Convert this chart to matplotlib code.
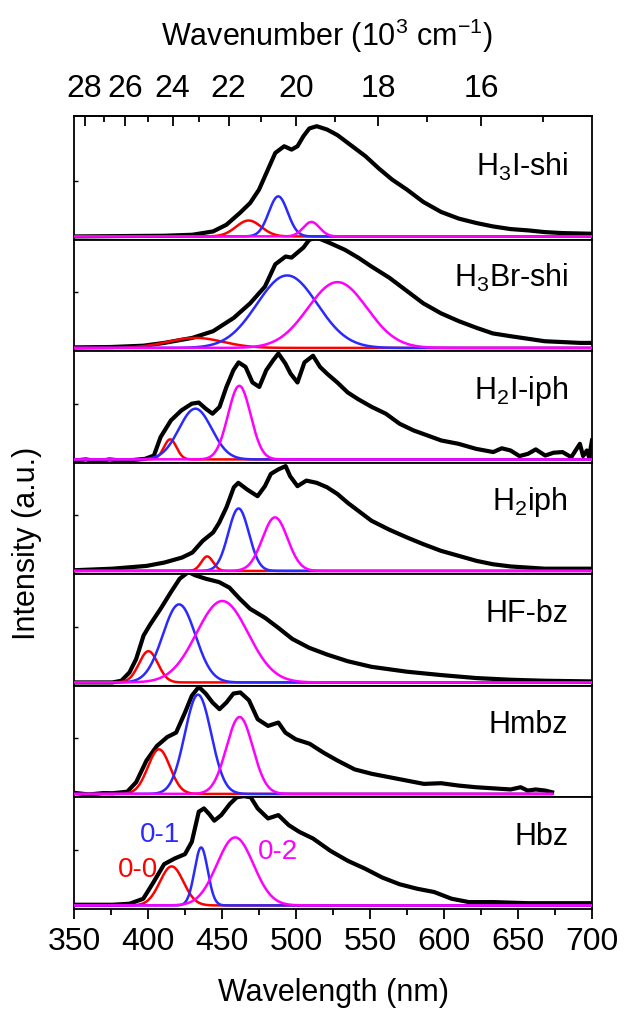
import numpy as np
import matplotlib
matplotlib.use("Agg")
import matplotlib.pyplot as plt
from matplotlib.ticker import FixedLocator, NullLocator

plt.rcParams['font.family'] = ['Liberation Sans', 'DejaVu Sans']
plt.rcParams['mathtext.fontset'] = 'custom'
plt.rcParams['mathtext.rm'] = 'Liberation Sans'
plt.rcParams['mathtext.it'] = 'Liberation Sans'
plt.rcParams['mathtext.bf'] = 'Liberation Sans'
plt.rcParams['mathtext.default'] = 'regular'

# ---------------- data ----------------
names = ["H$_3$I-shi", "H$_3$Br-shi", "H$_2$I-iph", "H$_2$iph", "HF-bz", "Hmbz", "Hbz"]

wl_h3i = [350, 411, 430, 444, 453, 462, 469, 475, 481, 486, 492, 497, 501, 505, 509, 514, 521, 528,
          537, 547, 556, 565, 575, 586, 598, 610, 622, 633, 645, 657, 668, 680, 700]
in_h3i = [0.0, 0.006, 0.015, 0.045, 0.105, 0.21, 0.30, 0.42, 0.60, 0.75, 0.81, 0.78, 0.81, 0.90, 0.97,
          0.99, 0.96, 0.91, 0.82, 0.72, 0.61, 0.51, 0.42, 0.31, 0.22, 0.16, 0.12, 0.09, 0.066, 0.054,
          0.039, 0.03, 0.024]

wl_h3br = [350, 375, 397, 411, 430, 444, 458, 469, 479, 486, 493, 497, 505, 509, 514, 523, 533, 542,
           551, 563, 575, 586, 598, 610, 622, 633, 645, 668, 692, 700]
in_h3br = [0.005, 0.008, 0.02, 0.045, 0.09, 0.15, 0.27, 0.40, 0.55, 0.75, 0.82, 0.81, 0.90, 0.97, 0.99,
           0.94, 0.88, 0.81, 0.73, 0.63, 0.51, 0.40, 0.31, 0.24, 0.18, 0.13, 0.105, 0.06, 0.045, 0.045]

wl_h2i = [350, 358, 366, 374, 382, 390, 398, 404, 408.5, 415.5, 422.6, 429.6, 434.3, 439, 443.6, 448.3,
          453, 457.7, 461.2, 465.9, 470.6, 475.2, 479.9, 484.6, 488.1, 492.8, 496.3, 501, 505.7, 511.5,
          516.2, 520.9, 527.9, 535, 542, 551.3, 560.7, 570, 579.4, 588.8, 598.1, 609.8, 621.6, 633.3,
          639, 645, 651, 656.7, 662, 668.4, 674, 680.1, 686, 691.8, 694, 696.5, 698, 700]
in_h2i = [-0.01, 0.0, -0.015, 0.0, -0.01, -0.005, 0.005, 0.035, 0.2, 0.35, 0.44, 0.50, 0.51, 0.455,
          0.41, 0.47, 0.65, 0.80, 0.87, 0.83, 0.69, 0.65, 0.80, 0.89, 0.95, 0.86, 0.77, 0.69, 0.87,
          0.93, 0.83, 0.77, 0.69, 0.60, 0.54, 0.47, 0.41, 0.32, 0.26, 0.215, 0.17, 0.14, 0.095, 0.066,
          0.10, 0.08, 0.03, 0.05, 0.09, 0.035, 0.06, 0.066, 0.02, 0.14, 0.03, 0.08, 0.02, 0.17]

wl_h2 = [350, 376, 399, 411, 423, 430, 437, 444, 448, 453, 458, 461, 467, 474, 479, 483, 488, 493, 496,
         501, 507, 514, 521, 528, 535, 542, 551, 563, 575, 586, 598, 610, 622, 633, 645, 668, 700]
in_h2 = [0.006, 0.02, 0.045, 0.075, 0.12, 0.165, 0.27, 0.345, 0.43, 0.57, 0.75, 0.79, 0.73, 0.67, 0.76,
         0.87, 0.91, 0.94, 0.85, 0.76, 0.81, 0.79, 0.75, 0.69, 0.61, 0.54, 0.45, 0.37, 0.30, 0.24, 0.18,
         0.135, 0.09, 0.06, 0.04, 0.02, 0.02]

wl_hf = [350, 376, 382, 387.5, 392, 397, 401.5, 408.5, 415.5, 421.4, 427.3, 432, 439, 448, 455, 462,
         469, 479, 488, 497.5, 509, 521, 535, 551, 575, 598, 622, 645, 668, 700]
in_hf = [0.0, 0.0, 0.015, 0.09, 0.21, 0.42, 0.52, 0.66, 0.81, 0.93, 0.99, 0.96, 0.93, 0.90, 0.85, 0.75,
         0.66, 0.58, 0.49, 0.39, 0.31, 0.25, 0.19, 0.14, 0.096, 0.066, 0.039, 0.024, 0.015, 0.009]

wl_hm = [350, 360, 370, 376, 386, 392, 399, 406, 413, 419, 425, 429.6, 434.3, 439, 443.6, 448.3, 453,
         457.7, 462.4, 468.2, 474.1, 481.1, 488.1, 492.8, 499.8, 509.2, 518.6, 527.9, 539.6, 551.3, 563,
         574.7, 586.4, 598.1, 609.8, 621.6, 633.3, 645, 651.8, 656.5, 662, 668.4, 673]
in_hm = [0.01, -0.005, 0.008, 0.006, 0.02, 0.105, 0.30, 0.43, 0.51, 0.55, 0.73, 0.88, 0.96, 0.90, 0.82,
         0.76, 0.82, 0.90, 0.91, 0.84, 0.67, 0.61, 0.64, 0.55, 0.49, 0.45, 0.37, 0.30, 0.22, 0.18, 0.15,
         0.12, 0.09, 0.096, 0.075, 0.06, 0.05, 0.04, 0.06, 0.03, 0.04, 0.03, 0.015]

wl_hb = [350, 376, 387.5, 396.8, 403.8, 410.9, 417.9, 425, 429.6, 434.3, 437.8, 441.3, 444.8, 449.5,
         455.3, 460, 464.7, 469.4, 474.1, 481.1, 488.1, 495.1, 502.2, 511.5, 523.2, 535, 546.6, 558.3,
         570, 581.7, 593.4, 605.1, 616.8, 633.3, 656.7, 680.1, 700]
in_hb = [0.006, 0.006, 0.015, 0.06, 0.21, 0.37, 0.42, 0.46, 0.57, 0.84, 0.87, 0.82, 0.76, 0.81, 0.91,
         0.97, 0.98, 0.97, 0.87, 0.78, 0.81, 0.72, 0.66, 0.60, 0.49, 0.40, 0.33, 0.25, 0.19, 0.15, 0.12,
         0.06, 0.03, 0.03, 0.02, 0.02, 0.02]

spectra_wl = [wl_h3i, wl_h3br, wl_h2i, wl_h2, wl_hf, wl_hm, wl_hb]
spectra_in = [in_h3i, in_h3br, in_h2i, in_h2, in_hf, in_hm, in_hb]

# Gaussian components: (center nm, FWHM nm, amplitude) for 0-0 (red), 0-1 (blue), 0-2 (magenta)
comp_00 = [(468, 20, 0.143), (432, 44, 0.09), (415, 10, 0.18), (440, 9.4, 0.13),
           (400.3, 15, 0.28), (407.4, 17.6, 0.40), (416, 18.7, 0.35)]
comp_01 = [(488, 15, 0.36), (494, 48, 0.65), (432, 26, 0.455), (461.2, 16.4, 0.56),
           (421, 26, 0.70), (433.8, 21, 0.89), (435.9, 10.5, 0.52)]
comp_02 = [(510.4, 13, 0.13), (528, 47, 0.59), (461.7, 18, 0.66), (485.8, 20, 0.48),
           (450.2, 41, 0.73), (461.9, 21, 0.69), (458.9, 29, 0.61)]
comp_end = [700, 700, 700, 700, 700, 673, 700]

bottom_ticks = [350, 400, 450, 500, 550, 600, 650, 700]
top_major = [28, 26, 24, 22, 20, 18, 16]
top_minor = [27, 25, 23, 21, 19, 17, 15]

# ---------------- figure ----------------
fig = plt.figure(figsize=(6.25, 10.12), dpi=100)
gs = fig.add_gridspec(7, 1, height_ratios=[120.8 + 3.5] + [111.5] * 6, hspace=0,
                      left=0.1184, right=0.9472, bottom=0.1008, top=0.8847)

comp_colors = ['#ff0000', '#2a2aff', '#ff00ff']
FS = 22
TFS = 23

axes = []
for i in range(7):
    ax = fig.add_subplot(gs[i])
    axes.append(ax)
    ax.plot(spectra_wl[i], spectra_in[i], color='black', lw=3.0, zorder=2, solid_joinstyle='round')
    x = np.linspace(350, comp_end[i], 800)
    for comp, col in zip((comp_00, comp_01, comp_02), comp_colors):
        c, fw, a = comp[i]
        s = fw / 2.3548
        ax.plot(x, a * np.exp(-0.5 * ((x - c) / s) ** 2), color=col, lw=1.8, zorder=3)
    ax.set_xlim(350, 700)
    top = 0.968 if i > 0 else 0.968 + 13.0 / 111.5
    ax.set_ylim(-0.032, top)
    ax.set_yticks([0.5])
    ax.set_yticklabels([])
    ax.tick_params(axis='y', direction='in', length=3, width=1.0, left=True, right=False)
    for sp in ax.spines.values():
        sp.set_linewidth(1.3)
    ax.text(0.954, 0.555, names[i], transform=ax.get_yaxis_transform(), ha='right', va='baseline',
            fontsize=FS)
    if i < 6:
        ax.tick_params(axis='x', bottom=False, labelbottom=False)
        ax.xaxis.set_major_locator(NullLocator())
    else:
        ax.set_xticks(bottom_ticks)
        ax.xaxis.set_minor_locator(FixedLocator([375, 425, 475, 525, 575, 625, 675]))
        ax.tick_params(axis='x', which='major', direction='out', length=7.5, width=1.3,
                       labelsize=TFS, pad=5)
        ax.tick_params(axis='x', which='minor', direction='out', length=4, width=1.3)

# top wavenumber axis
ax0 = axes[0]
sec = ax0.secondary_xaxis('top', functions=(lambda v: 1e4 / np.asarray(v, float),
                                            lambda v: 1e4 / np.asarray(v, float)))
sec.set_xticks(top_major)
sec.xaxis.set_minor_locator(FixedLocator(top_minor))
sec.tick_params(axis='x', which='major', direction='in', length=7.5, width=1.3, labelsize=TFS, pad=9)
sec.tick_params(axis='x', which='minor', direction='in', length=4, width=1.3)
sec.spines['top'].set_linewidth(1.3)

# annotations in the last panel
axb = axes[6]
axb.text(393, 0.33, "0-0", color='#ff0000', fontsize=20, ha='center', va='center')
axb.text(408, 0.64, "0-1", color='#2a2aff', fontsize=20, ha='center', va='center')
axb.text(488, 0.49, "0-2", color='#ff00ff', fontsize=20, ha='center', va='center')

fig.text(333 / 625, 1 - 993 / 1012, "Wavelength (nm)", ha='center', va='center', fontsize=FS)
fig.text(27 / 625, 1 - 543 / 1012, "Intensity (a.u.)", ha='center', va='center', fontsize=FS,
         rotation=90)
fig.text(327 / 625, 1 - 36 / 1012, "Wavenumber (10$^3$ cm$^{-1}$)", ha='center', va='center',
         fontsize=FS)

fig.savefig("out.png", dpi=100)
